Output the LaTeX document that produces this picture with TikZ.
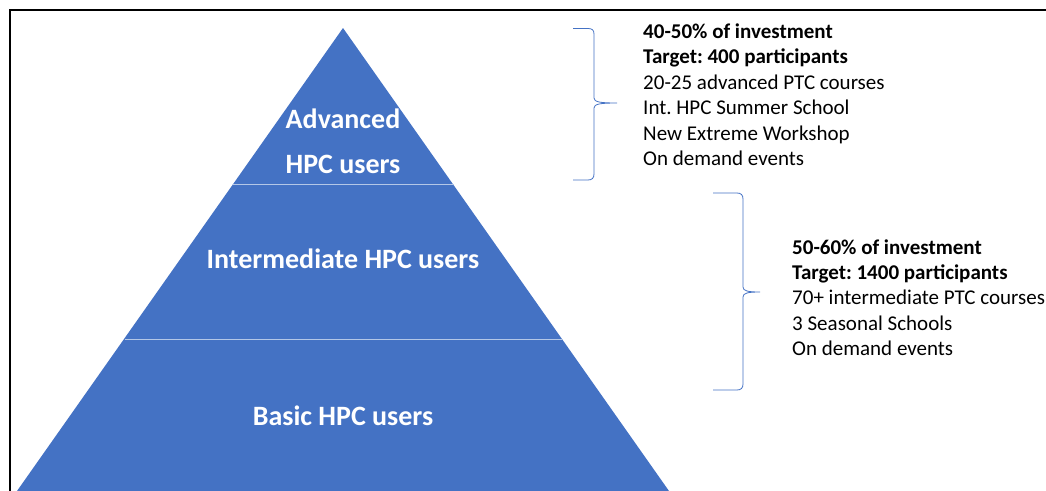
\documentclass[tikz,border=0pt]{standalone}
\usepackage{fontspec}
\setmainfont{Carlito}
\frenchspacing
\definecolor{pyrblue}{HTML}{4472C4}
\definecolor{divline}{HTML}{B4C7E7}
\begin{document}
\begin{tikzpicture}[x=1pt,y=-1pt,
  lvl/.style={text=white,inner sep=0pt,font=\bfseries\fontsize{28}{34}\selectfont},
  info/.style={text=black,inner sep=0pt,align=left,font=\fontsize{21}{25.4}\selectfont},
  bracestroke/.style={draw=pyrblue,line width=0.8pt},
  divider/.style={draw=divline,line width=1pt}]
\useasboundingbox (0,0) rectangle (1046,490);
\begin{scope}
\clip (0,0) rectangle (1046,490);
% frame
\draw[line width=2pt,black] (10,492) -- (10,10) -- (1048,10);
% pyramid
\coordinate (apex) at (343,28);
\coordinate (bl) at (17,491);
\coordinate (br) at (669,491);
\fill[pyrblue] (apex) -- (bl) -- (br) -- cycle;
\draw[divider] (233,184) -- (454,184);
\draw[divider] (124.5,339) -- (561.5,339);
\end{scope}
% level labels
\node[lvl,anchor=base] (adv1) at (343,128) {Advanced};
\node[lvl,anchor=base] (adv2) at (343,173) {HPC users};
\node[lvl,anchor=base] (inter) at (343,268) {Intermediate HPC users};
\node[lvl,anchor=base] (basic) at (343,425) {Basic HPC users};
% braces
\draw[bracestroke] (573,28.5) -- (588,28.5) .. controls (592,28.5) and (594,30) .. (594,34)
  -- (594,98) .. controls (594,102) and (600,103) .. (617,103)
  .. controls (600,103) and (594,104) .. (594,108)
  -- (594,174) .. controls (594,178) and (592,180) .. (588,180) -- (573,180);
\draw[bracestroke] (713,193) -- (737,193) .. controls (741,193) and (743,195) .. (743,199)
  -- (743,287) .. controls (743,291) and (748,292) .. (760,292)
  .. controls (748,292) and (743,293) .. (743,297)
  -- (743,384) .. controls (743,388) and (741,390) .. (737,390) -- (713,390);
% info texts (base anchor = baseline of last line)
\node[info,anchor=base west] (info1) at (643,165.5) {\textbf{40-50\% of investment}\\
\textbf{Target: 400 participants}\\
20-25 advanced PTC courses\\
Int. HPC Summer School\\
New Extreme Workshop\\
On demand events};
\node[info,anchor=base west] (info2) at (792,355.6) {\textbf{50-60\% of investment}\\
\textbf{Target: 1400 participants}\\
70+ intermediate PTC courses\\
3 Seasonal Schools\\
On demand events};
\end{tikzpicture}
\end{document}
